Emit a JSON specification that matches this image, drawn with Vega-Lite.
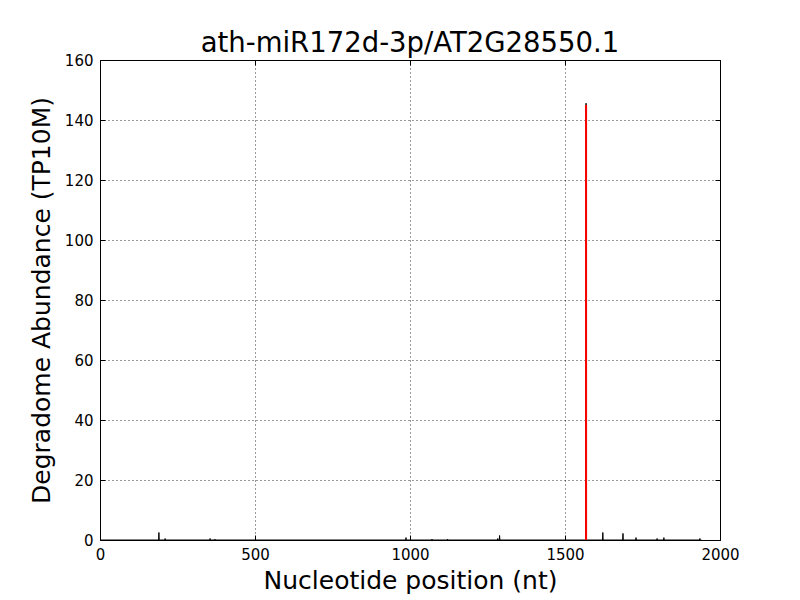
{
  "$schema": "https://vega.github.io/schema/vega-lite/v6.json",
  "autosize": "none",
  "width": 620,
  "height": 480,
  "padding": {"left": 100, "top": 60, "right": 80, "bottom": 60},
  "background": "white",
  "config": {
    "font": "DejaVu Sans",
    "view": {"stroke": "black", "strokeWidth": 1},
    "axis": {
      "domain": false,
      "grid": true,
      "gridColor": "black",
      "gridDash": [1, 3],
      "gridOpacity": 1,
      "gridWidth": 0.8,
      "tickColor": "black",
      "tickSize": -5,
      "labelColor": "black",
      "labelFont": "DejaVu Sans",
      "labelFontSize": 15,
      "labelFlush": false,
      "labelOverlap": false,
      "titleFont": "DejaVu Sans",
      "titleFontWeight": "normal",
      "titleColor": "black",
      "titleFontSize": 25
    }
  },
  "title": {
    "text": "ath-miR172d-3p/AT2G28550.1",
    "fontSize": 27.5,
    "fontWeight": "normal",
    "font": "DejaVu Sans",
    "color": "black",
    "offset": -4
  },
  "datasets": {
    "black": [
      {"pos": 1, "val": 0},
      {"pos": 189, "val": 0},
      {"pos": 190, "val": 2.5},
      {"pos": 191, "val": 0},
      {"pos": 209, "val": 0},
      {"pos": 210, "val": 0.5},
      {"pos": 211, "val": 0},
      {"pos": 354, "val": 0},
      {"pos": 355, "val": 0.5},
      {"pos": 356, "val": 0},
      {"pos": 370, "val": 0},
      {"pos": 371, "val": 0.3},
      {"pos": 372, "val": 0},
      {"pos": 986, "val": 0},
      {"pos": 987, "val": 0.8},
      {"pos": 988, "val": 0},
      {"pos": 1070, "val": 0},
      {"pos": 1071, "val": 0.3},
      {"pos": 1072, "val": 0},
      {"pos": 1120, "val": 0},
      {"pos": 1121, "val": 0.3},
      {"pos": 1122, "val": 0},
      {"pos": 1282, "val": 0},
      {"pos": 1283, "val": 0.5},
      {"pos": 1284, "val": 0},
      {"pos": 1288, "val": 0},
      {"pos": 1289, "val": 1.5},
      {"pos": 1290, "val": 0},
      {"pos": 1567, "val": 0},
      {"pos": 1568, "val": 145.6},
      {"pos": 1569, "val": 0},
      {"pos": 1621, "val": 0},
      {"pos": 1622, "val": 2.5},
      {"pos": 1623, "val": 0},
      {"pos": 1686, "val": 0},
      {"pos": 1687, "val": 2.2},
      {"pos": 1688, "val": 0},
      {"pos": 1728, "val": 0},
      {"pos": 1729, "val": 0.8},
      {"pos": 1730, "val": 0},
      {"pos": 1796, "val": 0},
      {"pos": 1797, "val": 0.5},
      {"pos": 1798, "val": 0},
      {"pos": 1818, "val": 0},
      {"pos": 1819, "val": 0.8},
      {"pos": 1820, "val": 0},
      {"pos": 1934, "val": 0},
      {"pos": 1935, "val": 0.5},
      {"pos": 1936, "val": 0},
      {"pos": 1940, "val": 0}
    ],
    "red": [
      {"pos": 1568, "val": 0},
      {"pos": 1568, "val": 145}
    ]
  },
  "resolve": {"axis": {"x": "independent", "y": "independent"}},
  "layer": [
    {
      "data": {"name": "black"},
      "mark": {"type": "line", "color": "black", "strokeWidth": 1, "clip": true},
      "encoding": {
        "x": {
          "field": "pos", "type": "quantitative",
          "scale": {"domain": [0, 2000], "nice": false, "zero": false},
          "axis": {"title": "Nucleotide position (nt)", "values": [0, 500, 1000, 1500, 2000], "labelPadding": 12, "titlePadding": 6, "format": "d"}
        },
        "y": {
          "field": "val", "type": "quantitative",
          "scale": {"domain": [0, 160], "nice": false},
          "axis": {"title": "Degradome Abundance (TP10M)", "values": [0, 20, 40, 60, 80, 100, 120, 140, 160], "labelPadding": 12, "titlePadding": 10}
        },
        "order": {"field": "pos", "type": "quantitative"}
      }
    },
    {
      "data": {"name": "red"},
      "mark": {"type": "line", "color": "red", "strokeWidth": 2, "clip": true},
      "encoding": {
        "x": {"field": "pos", "type": "quantitative", "axis": null},
        "y": {"field": "val", "type": "quantitative", "axis": null}
      }
    },
    {
      "data": {"name": "red"},
      "mark": {"type": "line", "strokeOpacity": 0},
      "encoding": {
        "x": {"field": "pos", "type": "quantitative", "axis": {"orient": "top", "title": null, "labels": false, "grid": false, "values": [0, 500, 1000, 1500, 2000]}},
        "y": {"field": "val", "type": "quantitative", "axis": {"orient": "right", "title": null, "labels": false, "grid": false, "values": [0, 20, 40, 60, 80, 100, 120, 140, 160]}}
      }
    }
  ]
}
